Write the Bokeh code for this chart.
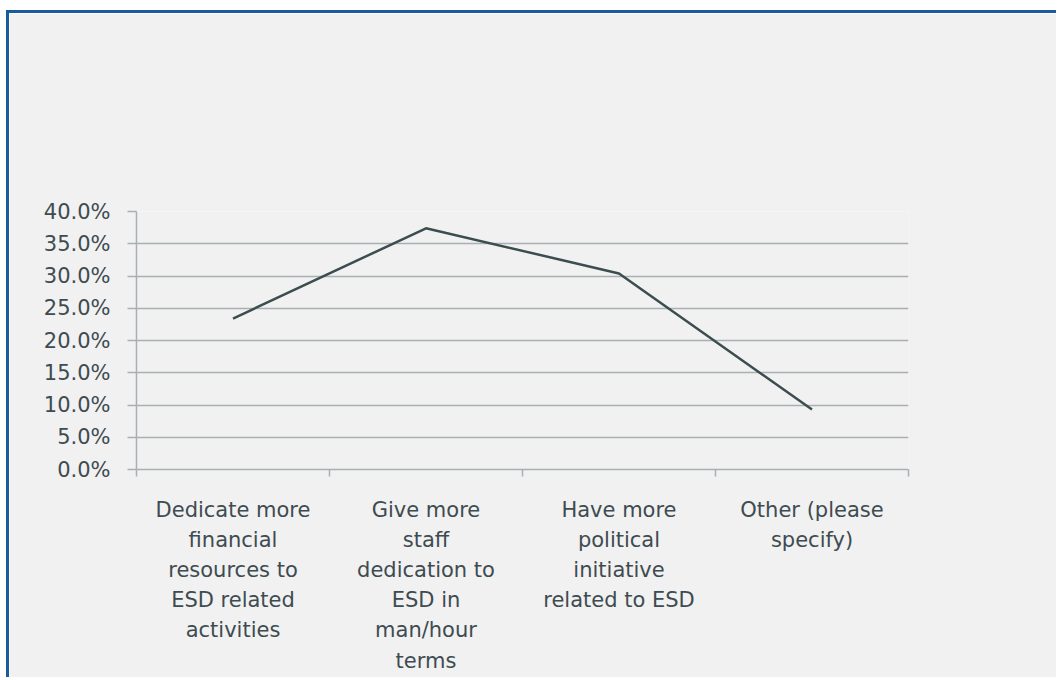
from bokeh.plotting import figure
from bokeh.models import FixedTicker, NumeralTickFormatter, Range1d
from bokeh.embed import file_html
from bokeh.resources import INLINE

# Survey answers (share of respondents)
categories = [
    "Dedicate more\nfinancial\nresources to\nESD related\nactivities",
    "Give more\nstaff\ndedication to\nESD in\nman/hour\nterms",
    "Have more\npolitical\ninitiative\nrelated to ESD",
    "Other (please\nspecify)",
]
shares = [0.234, 0.374, 0.304, 0.093]
y_ticks = [0.0, 0.05, 0.10, 0.15, 0.20, 0.25, 0.30, 0.35, 0.40]

TEXT = "#3e4b50"
GRID = "#a9b0b3"
BG = "#f1f1f1"

# each category occupies two units; the label sits at its centre
centres = [2 * i + 1 for i in range(len(categories))]
bounds = [2 * i for i in range(len(categories) + 1)]

p = figure(
    width=1050, height=667,
    x_range=Range1d(0, 2 * len(categories)),
    y_range=Range1d(0, 0.40),
    output_backend="svg", toolbar_location=None,
    min_border_left=127, min_border_right=151,
    min_border_top=198, min_border_bottom=211,
)
p.background_fill_color = BG
p.border_fill_color = BG
p.outline_line_color = None
p.styles = {
    "margin-left": "6px",
    "margin-top": "10px",
    "border-left": "3px solid #1b5b9c",
    "border-top": "3px solid #1b5b9c",
}

p.line(centres, shares, line_color="#3c4d50", line_width=2.5)

# y axis
yax = p.yaxis[0]
yax.ticker = FixedTicker(ticks=y_ticks)
yax.formatter = NumeralTickFormatter(format="0.0%")
yax.axis_line_color = GRID
yax.axis_line_width = 1.5
yax.major_tick_line_color = GRID
yax.major_tick_line_width = 1.5
yax.major_tick_out = 9
yax.major_tick_in = 0
yax.minor_tick_line_color = None
yax.major_label_standoff = 17
yax.major_label_text_font = "DejaVu Sans"
yax.major_label_text_font_size = "21px"
yax.major_label_text_color = TEXT

# x axis: boundary ticks drawn as minor ticks, labels at centres
xax = p.xaxis[0]
xax.ticker = FixedTicker(ticks=centres, minor_ticks=bounds)
xax.major_label_overrides = {c: lab for c, lab in zip(centres, categories)}
xax.axis_line_color = GRID
xax.axis_line_width = 1.5
xax.major_tick_line_color = None
xax.major_tick_out = 0
xax.major_tick_in = 0
xax.minor_tick_line_color = GRID
xax.minor_tick_line_width = 1.5
xax.minor_tick_out = 7
xax.minor_tick_in = 0
xax.major_label_standoff = 21
xax.major_label_text_font = "DejaVu Sans"
xax.major_label_text_font_size = "21px"
xax.major_label_text_color = TEXT
xax.major_label_text_line_height = 1.26
xax.major_label_text_align = "center"

p.xgrid.grid_line_color = None
p.ygrid.ticker = FixedTicker(ticks=y_ticks)
p.ygrid.grid_line_color = GRID
p.ygrid.grid_line_width = 1.5

open("out.html", "w").write(file_html(p, INLINE))
